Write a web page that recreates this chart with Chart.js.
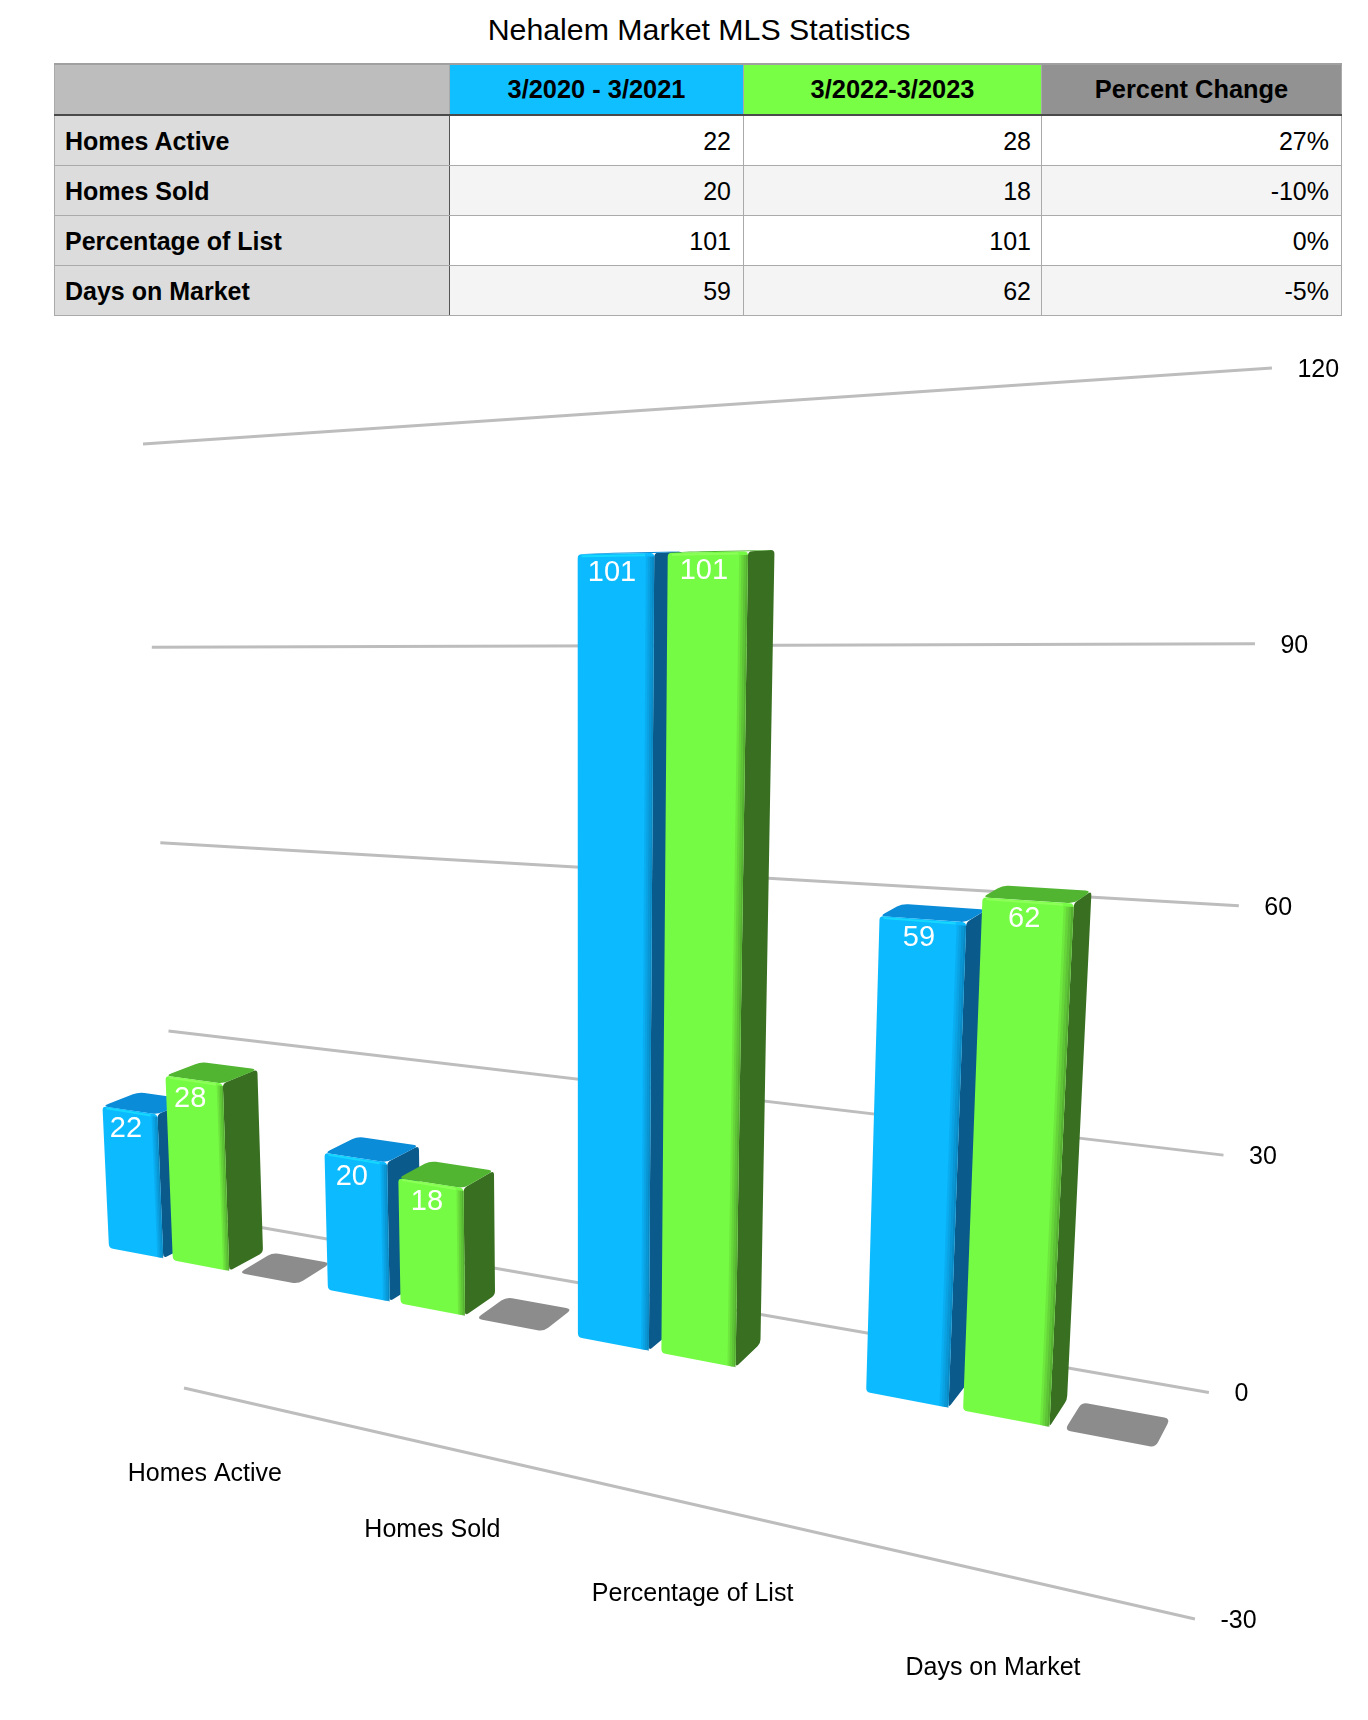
<!DOCTYPE html>
<html>
<head>
<meta charset="utf-8">
<title>Nehalem Market MLS Statistics</title>
<script src="https://cdn.jsdelivr.net/npm/chart.js@4/dist/chart.umd.min.js"></script>
<style>
body { margin: 0; background: #fff; font-family: "Liberation Sans", Arial, sans-serif; color: #000; }
#titulo { position: absolute; left: 200px; width: 998px; top: 0; line-height: 60px; text-align: center; font-size: 30.3px; }
#tabla { position: absolute; left: 54px; top: 63px; width: 1287px; border-collapse: collapse; table-layout: fixed; font-size: 25px; }
#tabla th, #tabla td { border: 1px solid #aaa; padding: 2px 12px 0 12px; overflow: hidden; box-sizing: border-box; }
#tabla thead th { height: 51px; padding-top: 0; text-align: center; font-size: 25.4px; border-bottom: 2px solid #4a4a4a; border-top: 2px solid #a0a0a0; }
#tabla tbody tr { height: 50px; }
#tabla tbody th { text-align: left; background: #dcdcdc; padding-left: 10px; border-right: 1px solid #555; }
#tabla td { text-align: right; }
#tabla td:nth-child(3) { padding-right: 10px; }
#tabla tbody tr:nth-child(even) td { background: #f4f4f4; }
canvas { position: absolute; left: 0; top: 0; }
</style>
</head>
<body>
<div id="titulo">Nehalem Market MLS Statistics</div>
<table id="tabla"><thead></thead><tbody></tbody></table>
<canvas id="grafica" width="1368" height="1720"></canvas>
<script>
const categorias = ["Homes Active", "Homes Sold", "Percentage of List", "Days on Market"]
const series = ["3/2020 - 3/2021", "3/2022-3/2023", "Percent Change"]
const valores2021 = [22, 20, 101, 59]
const valores2023 = [28, 18, 101, 62]
const cambio = [0.27, -0.1, 0, -0.05]
const ticksY = [-30, 0, 30, 60, 90, 120]

// colores de cada serie: frente, frente oscuro, lado, tapa, brillo
const colores = [
    { head: "#0fbfff", front: "#0cbaff", dark: "#0a7fb8", side: "#0a5a8c", top: "#0a8cd8", shine: "#16d8ff" },
    { head: "#78ff45", front: "#76fb44", dark: "#4f9e2e", side: "#386f20", top: "#52b532", shine: "#8cff58" },
    { head: "#929292", front: "#8a8a8a", dark: "#8a8a8a", side: "#808080", top: "#8c8c8c", shine: "#8c8c8c" },
]

// tabla
const thead = document.querySelector("#tabla thead")
const tbody = document.querySelector("#tabla tbody")
const anchos = [395, 294, 298, 300]
thead.innerHTML = "<tr><th style='width:" + anchos[0] + "px;background:#bcbdbc'></th>" +
    series.map((s, i) => "<th style='width:" + anchos[i + 1] + "px;background:" + colores[i].head + "'>" + s + "</th>").join("") + "</tr>"
categorias.forEach((c, i) => {
    tbody.innerHTML += "<tr><th>" + c + "</th><td>" + valores2021[i] + "</td><td>" + valores2023[i] + "</td><td>" + Math.round(cambio[i] * 100) + "%</td></tr>"
})

// perspectiva de las barras: (posicion en categorias, valor, profundidad) -> pantalla
const PX = [96.1, 198.5, -0.36, 1650]
const PY = [1250.5, -38.6, -7.13, 500]
const PW = [1.004, -0.0622, -0.00062, 1]
const FONDO = 0.0235   // profundidad de la barra

function proy(c, v, d) {
    const w = PW[0] + PW[1] * c + PW[2] * v + PW[3] * d
    return {
        x: (PX[0] + PX[1] * c + PX[2] * v + PX[3] * d) / w,
        y: (PY[0] + PY[1] * c + PY[2] * v + PY[3] * d) / w,
    }
}

// perspectiva de la pared: s y t de 0 a 1 sobre el area del grafico
function pared(s, t) {
    const w = -0.26325 * s + 0.09667 * t + 1
    return {
        x: (794.1 * s + 58.79 * t + 143) / w,
        y: (-172.88 * s + 1078.2 * t + 444) / w,
    }
}

function poligono(ctx, pts, r) {
    ctx.beginPath()
    const n = pts.length
    for (let i = 0; i < n; i++) {
        const p = pts[i], a = pts[(i + n - 1) % n], b = pts[(i + 1) % n]
        const la = Math.hypot(a.x - p.x, a.y - p.y), lb = Math.hypot(b.x - p.x, b.y - p.y)
        const d = Math.min(r, la / 2, lb / 2)
        const ax = p.x + (a.x - p.x) * d / la, ay = p.y + (a.y - p.y) * d / la
        const bx = p.x + (b.x - p.x) * d / lb, by = p.y + (b.y - p.y) * d / lb
        if (i == 0) ctx.moveTo(ax, ay)
        else ctx.lineTo(ax, ay)
        ctx.quadraticCurveTo(p.x, p.y, bx, by)
    }
    ctx.closePath()
}

function caja(ctx, c0, c1, v0, v1, col) {
    const sup = Math.max(v0, v1), inf = Math.min(v0, v1)
    const fi = proy(c0, inf, 0), fd = proy(c1, inf, 0)
    const si = proy(c0, sup, 0), sd = proy(c1, sup, 0)
    const bd = proy(c1, inf, FONDO), td = proy(c1, sup, FONDO), ti = proy(c0, sup, FONDO)

    if (sup - inf < 1) {
        // barra casi plana
        ctx.fillStyle = col.top
        poligono(ctx, [fi, ti, td, fd], 6)
        ctx.fill()
        return
    }

    // lado
    ctx.fillStyle = col.side
    poligono(ctx, [sd, td, bd, fd], 4)
    ctx.fill()

    // tapa
    ctx.fillStyle = col.top
    poligono(ctx, [si, ti, td, sd], 6)
    ctx.fill()

    // frente
    ctx.fillStyle = col.front
    poligono(ctx, [si, sd, fd, fi], 4)
    ctx.fill()

    // bisel entre frente y lado
    const tiras = 4, banda = 0.028
    for (let j = 0; j < tiras; j++) {
        const a = c1 - banda * (tiras - j) / tiras, b = c1 - banda * (tiras - j - 1) / tiras
        ctx.globalAlpha = (j + 1) / (tiras + 1)
        ctx.fillStyle = col.dark
        poligono(ctx, [proy(a, sup - 0.4, 0), proy(b, sup - 0.4, 0), proy(b, inf, 0), proy(a, inf, 0)], 0)
        ctx.fill()
    }
    ctx.globalAlpha = 1

    // brillo del borde superior
    ctx.strokeStyle = col.shine
    ctx.lineWidth = 2
    ctx.beginPath()
    ctx.moveTo(si.x + 4, si.y + 2)
    ctx.lineTo(si.x + (sd.x - si.x) * 0.88, si.y + (sd.y - si.y) * 0.88 + 2)
    ctx.stroke()
}

const perspectiva = {
    id: "perspectiva",
    beforeDatasetsDraw(chart) {
        const ctx = chart.ctx
        const xs = chart.scales.x, ys = chart.scales.y
        const n = categorias.length
        const paso = xs.width / n
        const aCat = px => (px - xs.left) / paso

        ctx.save()
        // lineas de la pared y etiquetas del eje
        ys.ticks.forEach(t => {
            const k = (ys.getPixelForValue(t.value) - ys.top) / ys.height
            const a = pared(0, k), b = pared(1, k)
            ctx.strokeStyle = "#bdbdbd"
            ctx.lineWidth = 3
            ctx.beginPath()
            ctx.moveTo(a.x, a.y)
            ctx.lineTo(b.x, b.y)
            ctx.stroke()
            ctx.fillStyle = "#000"
            ctx.font = "25px 'Liberation Sans'"
            ctx.textAlign = "left"
            ctx.textBaseline = "middle"
            ctx.fillText(String(t.value), b.x + 25.5, b.y + 2)
        })
        // etiquetas de categoria
        xs.ticks.forEach((t, i) => {
            const p = proy(aCat(xs.getPixelForTick(i)), ys.min, 0)
            ctx.fillStyle = "#000"
            ctx.textAlign = "center"
            ctx.fillText(categorias[i], p.x - 3, p.y + 17)
        })
        // barras, de izquierda a derecha
        for (let i = 0; i < n; i++) {
            chart.data.datasets.forEach((ds, k) => {
                if (ds.data[i] === 0) return
                const el = chart.getDatasetMeta(k).data[i]
                const c0 = aCat(el.x - el.width / 2), c1 = aCat(el.x + el.width / 2)
                const v = ys.getValueForPixel(el.y), base = ys.getValueForPixel(el.base)
                caja(ctx, c0, c1, base, v, colores[k])
                if (k < 2) {
                    const a = proy(c0, v, 0), b = proy(c1, v, 0)
                    ctx.fillStyle = "#fff"
                    ctx.font = "29px 'Liberation Sans'"
                    ctx.textAlign = "center"
                    ctx.textBaseline = "middle"
                    ctx.fillText(String(ds.data[i]), (a.x + b.x) / 2 - 4, (a.y + b.y) / 2 + 19)
                }
            })
        }
        ctx.restore()
        return false
    },
}

new Chart(document.querySelector("#grafica"), {
    type: "bar",
    data: {
        labels: categorias,
        datasets: [
            { label: series[0], data: valores2021 },
            { label: series[1], data: valores2023 },
            { label: series[2], data: cambio },
        ],
    },
    options: {
        responsive: false,
        animation: false,
        events: [],
        categoryPercentage: 0.915,
        barPercentage: 0.853,
        layout: { padding: 0 },
        plugins: { legend: { display: false }, tooltip: { enabled: false } },
        scales: {
            x: { display: false },
            y: { display: false, min: ticksY[0], max: ticksY[ticksY.length - 1], ticks: { stepSize: ticksY[1] - ticksY[0] } },
        },
    },
    plugins: [perspectiva],
})
</script>
</body>
</html>
